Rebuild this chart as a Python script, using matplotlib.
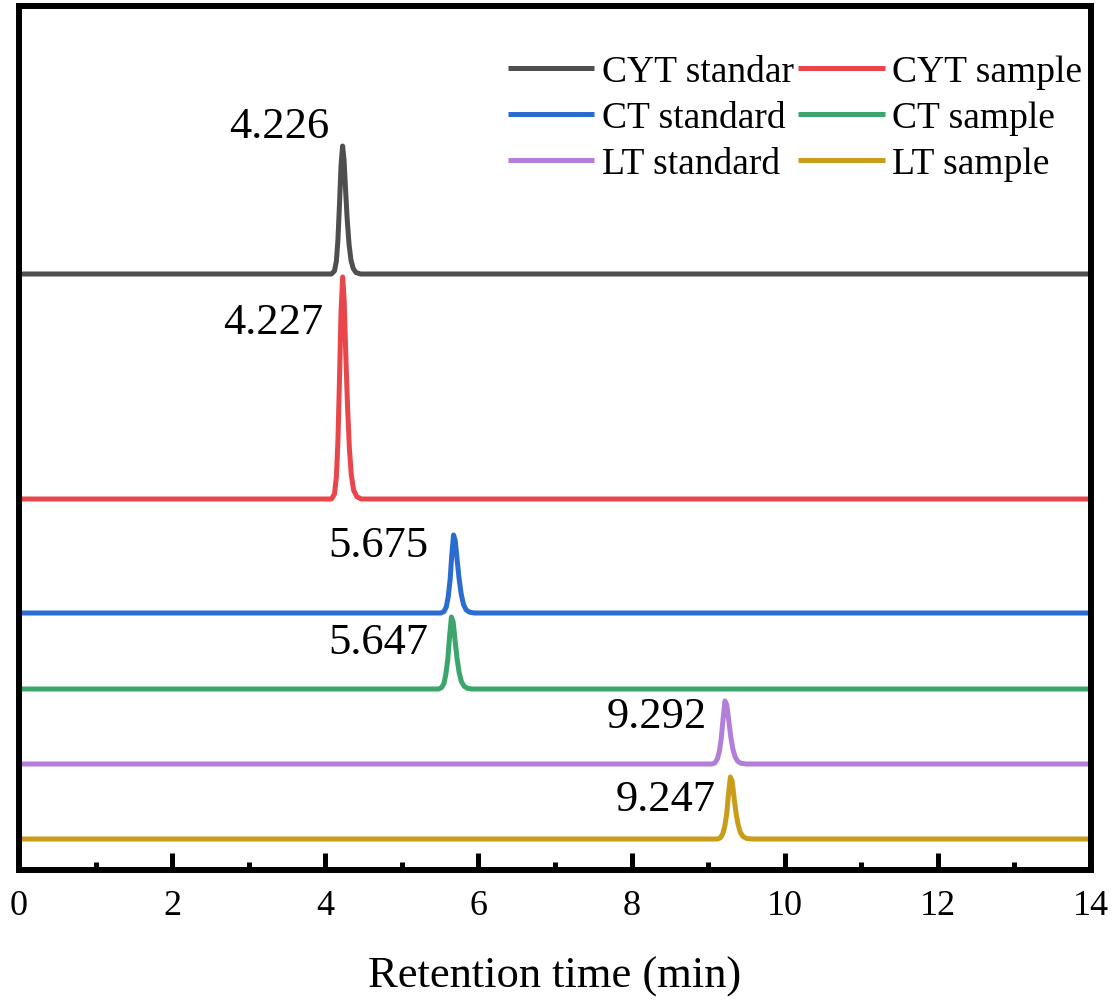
import matplotlib
matplotlib.use("Agg")
import matplotlib.pyplot as plt
from matplotlib.ticker import MultipleLocator

plt.rcParams['font.family'] = ['Liberation Serif', 'DejaVu Serif']

# ---------------- data ----------------
labels = ["CYT standar", "CYT sample", "CT standard", "CT sample", "LT standard", "LT sample"]
peak_labels = ["4.226", "4.227", "5.675", "5.647", "9.292", "9.247"]

t_cyt_std = [0, 4.08, 4.12, 4.145, 4.165, 4.185, 4.205, 4.226, 4.245, 4.265, 4.285, 4.31, 4.335, 4.365, 4.40, 4.46, 14]
s_cyt_std = [0, 0, 0.3, 1.3, 3.4, 6.9, 10.8, 12.8, 11.4, 8.4, 5.6, 3.0, 1.4, 0.55, 0.15, 0, 0]

t_cyt_smp = [0, 4.08, 4.12, 4.145, 4.165, 4.185, 4.205, 4.227, 4.247, 4.267, 4.29, 4.315, 4.34, 4.37, 4.41, 4.47, 14]
s_cyt_smp = [0, 0, 0.5, 2.2, 5.8, 11.8, 18.6, 22.2, 19.8, 14.6, 9.4, 5.0, 2.4, 0.9, 0.25, 0, 0]

t_ct_std = [0, 5.51, 5.55, 5.58, 5.605, 5.63, 5.652, 5.675, 5.698, 5.722, 5.748, 5.775, 5.805, 5.84, 5.885, 5.95, 14]
s_ct_std = [0, 0, 0.15, 0.6, 1.6, 3.3, 5.8, 7.8, 7.2, 5.3, 3.4, 1.9, 0.85, 0.3, 0.08, 0, 0]

t_ct_smp = [0, 5.48, 5.52, 5.55, 5.575, 5.60, 5.624, 5.647, 5.67, 5.694, 5.72, 5.747, 5.777, 5.812, 5.857, 5.92, 14]
s_ct_smp = [0, 0, 0.15, 0.55, 1.5, 3.0, 5.3, 7.2, 6.7, 4.9, 3.1, 1.7, 0.75, 0.28, 0.07, 0, 0]

t_lt_std = [0, 9.05, 9.09, 9.12, 9.148, 9.172, 9.196, 9.22, 9.244, 9.27, 9.296, 9.323, 9.353, 9.388, 9.433, 9.50, 14]
s_lt_std = [0, 0, 0.12, 0.5, 1.3, 2.6, 4.6, 6.3, 5.9, 4.3, 2.7, 1.5, 0.7, 0.25, 0.06, 0, 0]

t_lt_smp = [0, 9.12, 9.16, 9.19, 9.218, 9.242, 9.266, 9.29, 9.313, 9.338, 9.364, 9.391, 9.421, 9.456, 9.50, 9.57, 14]
s_lt_smp = [0, 0, 0.12, 0.5, 1.3, 2.5, 4.5, 6.2, 5.8, 4.2, 2.6, 1.45, 0.65, 0.25, 0.06, 0, 0]

times = [t_cyt_std, t_cyt_smp, t_ct_std, t_ct_smp, t_lt_std, t_lt_smp]
signals = [s_cyt_std, s_cyt_smp, s_ct_std, s_ct_smp, s_lt_std, s_lt_smp]

# ---------------- layout / style ----------------
offsets = [59.6, 37.1, 25.7, 18.1, 10.6, 3.1]
label_pos = [(4.05, 74.4), (3.97, 54.8), (5.35, 32.5), (5.35, 22.8), (8.98, 15.4), (9.1, 7.1)]
colors = ["#4f4f4f", "#e8464a", "#2a6cd0", "#3ba56b", "#b27ed9", "#c99c1a"]

fig = plt.figure(figsize=(11.18, 10.03), dpi=100)
ax = fig.add_axes([19 / 1118, 1 - 871 / 1003, (1091 - 19) / 1118, 864 / 1003])

lines = []
for t, s, off, c, lab in zip(times, signals, offsets, colors, labels):
    ln, = ax.plot(t, [v + off for v in s], color=c, lw=3.6, label=lab,
                  solid_joinstyle='round', solid_capstyle='butt')
    lines.append(ln)

for txt, (x, y) in zip(peak_labels, label_pos):
    ax.text(x, y, txt, fontsize=32, ha='right', va='center')

ax.set_xlim(0, 14)
ax.set_ylim(0, 86.4)
ax.xaxis.set_major_locator(MultipleLocator(2))
ax.xaxis.set_minor_locator(MultipleLocator(1))
ax.tick_params(axis='x', which='major', direction='in', length=12, width=3.6,
               labelsize=26, pad=14)
ax.tick_params(axis='x', which='minor', direction='in', length=6, width=3.6)
ax.set_yticks([])
for sp in ax.spines.values():
    sp.set_linewidth(4.3)
ax.set_xlabel("Retention time (min)", fontsize=32, labelpad=24)

order = [0, 2, 4, 1, 3, 5]
ax.legend([lines[i] for i in order], [labels[i] for i in order], ncol=2,
          frameon=False, fontsize=27, loc='upper right',
          bbox_to_anchor=(1082 / 1118, 1 - 56 / 1003), bbox_transform=fig.transFigure,
          handlelength=2.3, handletextpad=0.2, columnspacing=0.12,
          labelspacing=0.3, borderpad=0.0, borderaxespad=0.0)

fig.savefig("out.png", dpi=100)
